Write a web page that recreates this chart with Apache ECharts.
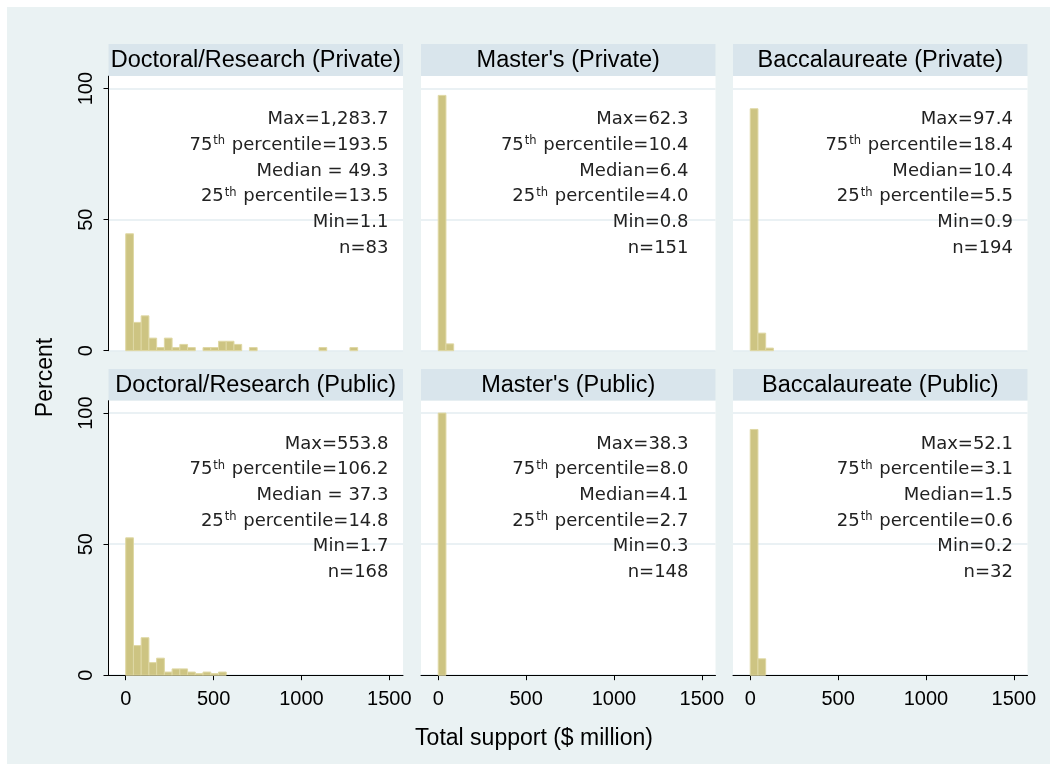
<!DOCTYPE html>
<html><head><meta charset="utf-8">
<script src="https://cdn.jsdelivr.net/npm/echarts@6/dist/echarts.min.js"></script>
<style>
html,body{margin:0;padding:0;background:#fff;}
#bg{position:absolute;left:7px;top:7px;width:1043px;height:757px;background:#eaf2f3;}
#c{position:absolute;left:0;top:0;width:1057px;height:771px;}
</style>
</head><body><div id="bg"></div><div id="c"></div>
<script>
// ---- data ----
const BIN_WIDTH = 44;               // histogram bin width ($ million)
const xTicks = [0, 500, 1000, 1500];
const yTicks = [0, 50, 100];
const panelTitles = [
  "Doctoral/Research (Private)", "Master's (Private)", "Baccalaureate (Private)",
  "Doctoral/Research (Public)", "Master's (Public)", "Baccalaureate (Public)"
];
// percent of institutions per bin (bin k = [k*BIN_WIDTH, (k+1)*BIN_WIDTH))
const docPrivate  = [44.6, 10.8, 13.3, 4.8, 1.2, 4.8, 1.2, 2.4, 1.2, 0, 1.2, 1.2, 3.6, 3.6, 2.4, 0, 1.2, 0, 0, 0, 0, 0, 0, 0, 0, 1.2, 0, 0, 0, 1.2];
const masPrivate  = [97.4, 2.6];
const bacPrivate  = [92.3, 6.7, 1.0];
const docPublic   = [52.4, 11.3, 14.3, 4.8, 6.5, 1.2, 2.4, 2.4, 1.2, 0.6, 1.2, 0.6, 1.2];
const masPublic   = [100];
const bacPublic   = [93.75, 6.25];
// summary statistics text
const statsDocPrivate = ["Max=1,283.7", "75th percentile=193.5", "Median = 49.3", "25th percentile=13.5", "Min=1.1", "n=83"];
const statsMasPrivate = ["Max=62.3", "75th percentile=10.4", "Median=6.4", "25th percentile=4.0", "Min=0.8", "n=151"];
const statsBacPrivate = ["Max=97.4", "75th percentile=18.4", "Median=10.4", "25th percentile=5.5", "Min=0.9", "n=194"];
const statsDocPublic  = ["Max=553.8", "75th percentile=106.2", "Median = 37.3", "25th percentile=14.8", "Min=1.7", "n=168"];
const statsMasPublic  = ["Max=38.3", "75th percentile=8.0", "Median=4.1", "25th percentile=2.7", "Min=0.3", "n=148"];
const statsBacPublic  = ["Max=52.1", "75th percentile=3.1", "Median=1.5", "25th percentile=0.6", "Min=0.2", "n=32"];
const xTitle = "Total support ($ million)";
const yTitle = "Percent";

const binsAll = [docPrivate, masPrivate, bacPrivate, docPublic, masPublic, bacPublic];
const statsAll = [statsDocPrivate, statsMasPrivate, statsBacPrivate, statsDocPublic, statsMasPublic, statsBacPublic];

// ---- layout ----
const COL_LEFT = [108.5, 421, 733];
const GRID_W = 294.5;
const ROW_TOP = [76, 400.5];
const GRID_H = 274.7;
const TITLE_TOP = [44, 369];
const TITLE_H = [32, 31.5];
const STAT_RIGHT = [388.5, 688.5, 1013];
const FONT = "'Liberation Sans', Arial, Helvetica, sans-serif";
const STAT_FONT = "'DejaVu Sans', sans-serif";
const BAR_FILL = '#cdc482';
const BAR_STROKE = '#dfd8a4';

const grids = [], xAxes = [], yAxes = [], series = [], graphics = [];

binsAll.forEach((bins, i) => {
  const row = i < 3 ? 0 : 1, col = i % 3;
  grids.push({left: COL_LEFT[col], top: ROW_TOP[row], width: GRID_W, height: GRID_H,
    show: true, backgroundColor: '#fff', borderWidth: 0});
  xAxes.push({
    gridIndex: i, type: 'value', min: -98, max: 1578, show: row === 1,
    axisLine: {show: true, onZero: false, lineStyle: {color: '#000', width: 1}},
    axisTick: {show: true, length: 5, customValues: xTicks, lineStyle: {color: '#000'}},
    axisLabel: {customValues: xTicks, fontSize: 20, color: '#000', margin: 14, fontFamily: FONT,
      formatter: v => String(v)},
    splitLine: {show: false}
  });
  yAxes.push({
    gridIndex: i, type: 'value', min: 0, max: 104.8,
    axisLine: {show: col === 0, onZero: false, lineStyle: {color: '#000', width: 1}},
    axisTick: {show: col === 0, length: 5, customValues: yTicks, lineStyle: {color: '#000'}},
    axisLabel: {show: col === 0, customValues: yTicks, rotate: 90, fontSize: 20, color: '#000', margin: 12, fontFamily: FONT,
      formatter: v => String(v)},
    splitLine: {show: true, lineStyle: {color: '#e3ecf0', width: 1.5}}
  });
  const data = bins.map((v, k) => [k * BIN_WIDTH, (k + 1) * BIN_WIDTH, v]).filter(d => d[2] > 0);
  series.push({
    type: 'custom', xAxisIndex: i, yAxisIndex: i, data: data,
    encode: {x: [0, 1], y: 2},
    renderItem: function (params, api) {
      const p0 = api.coord([api.value(0), api.value(2)]);
      const p1 = api.coord([api.value(1), 0]);
      return {type: 'rect',
        shape: {x: p0[0], y: p0[1], width: p1[0] - p0[0], height: p1[1] - p0[1]},
        style: {fill: BAR_FILL, stroke: BAR_STROKE, lineWidth: 1}};
    }
  });
  // panel title box
  graphics.push({type: 'rect', z: 50, shape: {x: COL_LEFT[col], y: TITLE_TOP[row], width: GRID_W, height: TITLE_H[row]},
    style: {fill: '#d9e5ec'}, silent: true});
  graphics.push({type: 'text', z: 60, x: COL_LEFT[col] + GRID_W / 2, y: TITLE_TOP[row] + TITLE_H[row] / 2 + 0.5,
    style: {text: panelTitles[i], fontSize: 23.5, fontFamily: FONT, fill: '#000', align: 'center', verticalAlign: 'middle'}});
  // statistics text
  statsAll[i].forEach((line, j) => {
    const txt = line.replace(/^(\d+)th /, '{n|$1}{s|th}{n| }').replace(/^(?!\{)(.*)$/, '{n|$1}').replace(/\{n\| \}(.*)$/, '{n| $1}');
    graphics.push({type: 'text', z: 100, x: STAT_RIGHT[col], y: ROW_TOP[row] + 43.5 + j * 25.7,
      style: {text: txt, align: 'right', verticalAlign: 'middle',
        rich: {
          n: {fontSize: 18, fontFamily: STAT_FONT, fill: '#222', lineHeight: 22},
          s: {fontSize: 11.5, fontFamily: STAT_FONT, fill: '#222', lineHeight: 22, verticalAlign: 'top', padding: [1, 1, 0, 1]}
        }}});
  });
});

graphics.push({type: 'text', z: 60, x: 534, y: 739,
  style: {text: xTitle, fontSize: 23, fontFamily: FONT, fill: '#000', align: 'center', verticalAlign: 'middle'}});
graphics.push({type: 'text', z: 60, x: 46, y: 377.5, rotation: Math.PI / 2,
  style: {text: yTitle, fontSize: 23, fontFamily: FONT, fill: '#000', align: 'center', verticalAlign: 'middle'}});

const chart = echarts.init(document.getElementById('c'), null, {renderer: 'canvas'});
chart.setOption({
  backgroundColor: 'transparent',
  animation: false,
  grid: grids, xAxis: xAxes, yAxis: yAxes, series: series,
  graphic: {elements: graphics}
});
</script></body></html>
